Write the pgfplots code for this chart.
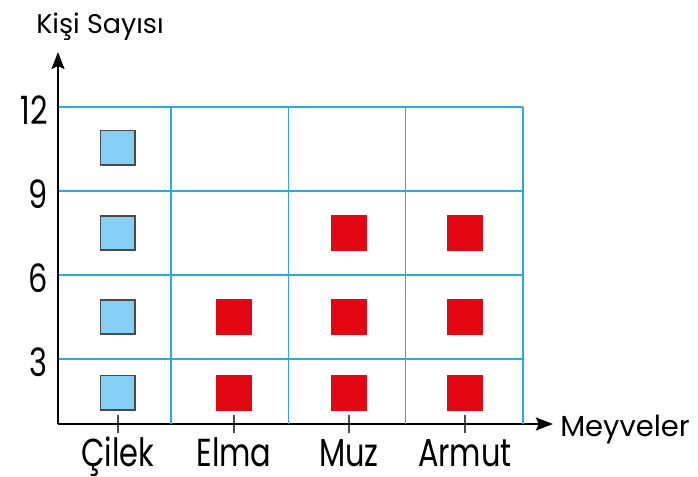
\documentclass[border=0pt]{standalone}
\usepackage{fontspec}
\setmainfont{Poppins}
\newfontfamily\narrowfont{Poppins}[FakeStretch=0.78]
\usepackage{pgfplots}
\pgfplotsset{compat=1.18}
\usetikzlibrary{arrows.meta}
\definecolor{gridblue}{HTML}{29ABE2}
\definecolor{sqblue}{HTML}{85CFF4}
\definecolor{sqred}{HTML}{E30613}
\definecolor{sqborder}{HTML}{4A4A4A}
\begin{document}
\begin{tikzpicture}
\begin{axis}[name=a,
  x=58.65pt, y=14pt,
  xmin=-0.463, xmax=3.5, ymin=0.68, ymax=12,
  axis lines=left, clip=false,
  x axis line style={line width=1pt, -{Stealth[length=8.5pt,width=6.5pt,inset=1.5pt]}, shorten >=-15pt},
  y axis line style={line width=1pt, -{Stealth[length=8.5pt,width=6.5pt,inset=1.5pt]}, shorten >=-27.5pt},
  xtick={0.048,1.037,2.017,3.006},
  xticklabels={Çilek,Elma,Muz,Armut},
  major tick length=9pt, tick align=center,
  xtick style={sqborder, line width=0.7pt},
  ytick={3,6,9,12}, ytick style={draw=none},
  ymajorgrids,
  extra x ticks={0.5,1.5,2.5,3.5}, extra x tick labels={},
  extra x tick style={grid=major, major tick length=0pt},
  grid style={gridblue, line width=0.75pt},
  ticklabel style={font=\narrowfont\fontsize{19.5}{24}\selectfont},
  yticklabel style={inner sep=0pt, xshift=-0.5pt, yshift=-1.5pt},
  xticklabel style={anchor=base, inner sep=0pt, yshift=-17pt},
  /pgf/number format/assume math mode=true,
]
\addplot[only marks, mark=square*, mark size=8.6pt,
  mark options={fill=sqblue, draw=sqborder, line width=0.75pt}]
  coordinates {(0.048,1.8) (0.048,4.5) (0.048,7.5) (0.048,10.55)};
\addplot[only marks, mark=square*, mark size=8.8pt,
  mark options={fill=sqred, draw=sqred, line width=0.3pt}]
  coordinates {(1.037,1.8) (1.037,4.5)
               (2.017,1.8) (2.017,4.5) (2.017,7.5)
               (3.006,1.8) (3.006,4.5) (3.006,7.5)};
\end{axis}
\node[anchor=base, font=\fontsize{13.5}{16}\selectfont] at ([shift={(21pt,195pt)}]a.south west) {Kişi Sayısı};
\node[anchor=base, font=\fontsize{14.5}{18}\selectfont] at ([shift={(283.5pt,-6.5pt)}]a.south west) {Meyveler};
\pgfresetboundingbox
\path[use as bounding box] ([shift={(-29pt,-26.5pt)}]a.south west) rectangle ([shift={(320pt,212pt)}]a.south west);
\end{tikzpicture}
\end{document}
